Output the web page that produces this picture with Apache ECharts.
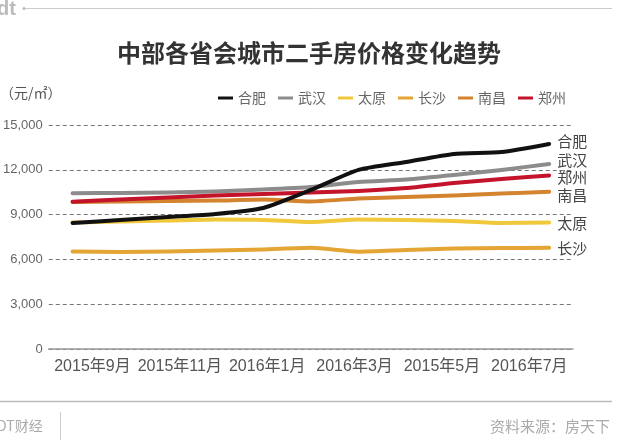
<!DOCTYPE html>
<html>
<head>
<meta charset="utf-8">
<script src="https://cdn.jsdelivr.net/npm/echarts@6/dist/echarts.min.js"></script>
<style>
html,body{margin:0;padding:0;background:#fff;}
#c{width:618px;height:448px;}
</style>
</head>
<body>
<div id="c"></div>
<script>
// ---- data ----
const months = ['2015-09','2015-10','2015-11','2015-12','2016-01','2016-02','2016-03','2016-04','2016-05','2016-06','2016-07'];
const tickLabels = ['2015年9月','2015年11月','2016年1月','2016年3月','2015年5月','2016年7月'];
const cityNames = ['合肥','武汉','太原','长沙','南昌','郑州'];
const hefei   = [8440, 8640, 8840, 9040, 9440, 10650, 11990, 12520, 13060, 13190, 13730];
const wuhan   = [10430, 10450, 10480, 10550, 10680, 10850, 11180, 11350, 11650, 11990, 12390];
const taiyuan = [8470, 8540, 8600, 8670, 8640, 8500, 8670, 8640, 8570, 8440, 8470];
const changsha= [6530, 6500, 6530, 6600, 6660, 6780, 6520, 6630, 6730, 6760, 6780];
const nanchang= [9840, 9880, 9910, 9940, 10010, 9880, 10080, 10180, 10280, 10410, 10530];
const zhengzhou=[9860, 10010, 10150, 10280, 10380, 10480, 10580, 10780, 11120, 11380, 11620];
const yTicks = [0, 3000, 6000, 9000, 12000, 15000];

const font = "'Liberation Sans','Noto Sans CJK SC',sans-serif";
const colors = {
  '合肥':'#111111','武汉':'#8c8c8c','太原':'#f0c83c','长沙':'#e5a534','南昌':'#d4832e','郑州':'#c4142c'
};
const values = {'合肥':hefei,'武汉':wuhan,'太原':taiyuan,'长沙':changsha,'南昌':nanchang,'郑州':zhengzhou};
const endOffsets = {'合肥':[0,-1],'武汉':[0,-2],'太原':[0,2.5],'长沙':[0,2],'南昌':[0,5],'郑州':[0,3.5]};
const drawOrder = ['太原','长沙','南昌','武汉','郑州','合肥'];

const series = drawOrder.map(name => ({
  name: name,
  type: 'line',
  xAxisIndex: 0,
  data: values[name],
  symbol: 'none',
  smooth: 0.2,
  lineStyle: {width: 4, color: colors[name], cap: 'round', join: 'round'},
  itemStyle: {color: colors[name]},
  endLabel: {
    show: true,
    formatter: '{a}',
    distance: 8,
    offset: endOffsets[name],
    fontSize: 15,
    color: '#444',
    fontFamily: font
  },
  emphasis: {disabled: true},
  animation: false
}));

const chart = echarts.init(document.getElementById('c'), null, {renderer: 'canvas'});
chart.setOption({
  backgroundColor: '#fff',
  animation: false,
  title: {
    text: '中部各省会城市二手房价格变化趋势',
    left: 'center',
    top: 36,
    textStyle: {fontSize: 24, fontWeight: 'bold', color: '#333', fontFamily: "'Noto Sans CJK SC',sans-serif"}
  },
  legend: {
    data: cityNames,
    left: 213,
    top: 86,
    icon: 'rect',
    itemWidth: 15,
    itemHeight: 3,
    itemGap: 12,
    textStyle: {fontSize: 14, color: '#666', fontFamily: "'Noto Sans CJK SC',sans-serif"}
  },
  grid: {left: 48, right: 45, top: 125, bottom: 99, containLabel: false},
  xAxis: [
    {
      type: 'category',
      data: months,
      boundaryGap: true,
      axisLine: {show: true, lineStyle: {color: '#999', width: 1.5}},
      axisTick: {show: false},
      axisLabel: {show: false},
      splitLine: {show: false}
    },
    {
      type: 'category',
      data: tickLabels,
      position: 'bottom',
      boundaryGap: true,
      axisLine: {show: false},
      axisTick: {show: false},
      axisLabel: {show: true, interval: 0, margin: 10, fontSize: 16, color: '#555', fontFamily: font},
      splitLine: {show: false}
    }
  ],
  yAxis: {
    type: 'value',
    min: yTicks[0],
    max: yTicks[yTicks.length - 1],
    interval: 3000,
    axisLine: {show: false},
    axisTick: {show: false},
    axisLabel: {
      margin: 6, fontSize: 13, color: '#666', fontFamily: font,
      formatter: v => v.toLocaleString('en-US')
    },
    splitLine: {show: true, lineStyle: {type: [4, 3], color: '#777', width: 1}}
  },
  graphic: [
    {type: 'text', left: -3, top: -1, style: {text: 'dt', font: "bold 20px 'Liberation Sans',sans-serif", fill: '#bbb'}},
    {type: 'circle', shape: {cx: 24, cy: 8.5, r: 1.5}, style: {fill: '#bbb'}},
    {type: 'line', shape: {x1: 25, y1: 8.5, x2: 612, y2: 8.5}, style: {stroke: '#ccc', lineWidth: 1}},
    {type: 'text', left: 0, top: 86, style: {text: '（元/㎡）', font: "14px 'Noto Sans CJK SC',sans-serif", fill: '#555'}},
    {type: 'line', shape: {x1: 0, y1: 401.5, x2: 612, y2: 401.5}, style: {stroke: '#bbb', lineWidth: 1.5}},
    {type: 'text', left: -3, top: 419, style: {text: 'DT财经', font: "14px 'Noto Sans CJK SC',sans-serif", fill: '#aaa'}},
    {type: 'line', shape: {x1: 60.5, y1: 412, x2: 60.5, y2: 440}, style: {stroke: '#ccc', lineWidth: 1}},
    {type: 'text', right: 8, top: 419, style: {text: '资料来源：房天下', font: "15px 'Noto Sans CJK SC',sans-serif", fill: '#aaa'}}
  ],
  series: series
});
</script>
</body>
</html>
